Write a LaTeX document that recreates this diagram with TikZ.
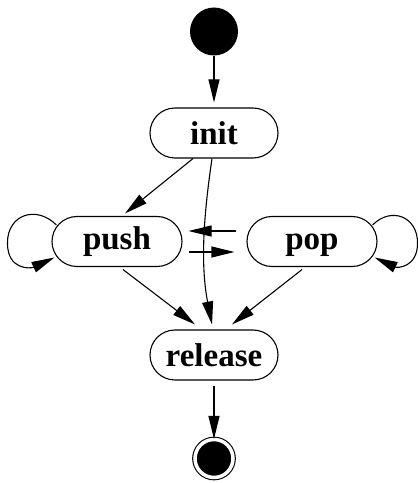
\documentclass[tikz,border=0pt]{standalone}
\usepackage{fontspec}
\setmainfont{Liberation Serif}
\usetikzlibrary{arrows.meta}

\tikzset{
  state/.style={draw, line width=1.1pt, rounded corners=25pt, minimum width=128pt,
    minimum height=50pt, inner sep=0pt, font=\fontsize{33}{33}\selectfont\bfseries,
    text height=24pt, text depth=7.4pt},
  lowtext/.style={text height=28pt, text depth=4.6pt},
  arr/.style={line width=1.1pt, -{Triangle[length=23pt,width=11pt]}},
  startdot/.style={circle, fill=black, minimum size=48pt, inner sep=0pt},
  enddot/.style={circle, draw, line width=1.1pt, fill=black, minimum size=38pt,
    inner sep=0pt, double=white, double distance=3.5pt},
}

\begin{document}
\begin{tikzpicture}[x=1pt, y=1pt]
  \useasboundingbox (0,0) rectangle (418,483);

  % states
  \node[startdot] (start) at (214,451.5) {};
  \node[state, lowtext] (init) at (214,350) {init};
  \node[state, minimum width=130pt] (push) at (117,241.5) {push};
  \node[state, minimum width=130pt] (pop) at (312,241.5) {pop};
  \node[state, lowtext] (release) at (214,128) {release};
  \node[enddot] (end) at (214,24.5) {};

  % transitions
  \draw[arr, shorten >=5pt] (start) -- (init.north);
  \draw[arr] ([xshift=-21pt]init.south) -- ([shift={(8,2.5)}]push.north);
  \draw[arr] ([xshift=-2pt]init.south) .. controls (204,270) and (200,220) .. ([shift={(-2,5)}]release.north);
  \draw[arr] ([shift={(6,-2.5)}]push.south) -- ([shift={(-19,5)}]release.north);
  \draw[arr] ([shift={(-10,-2.5)}]pop.south) -- ([shift={(18,5)}]release.north);
  \draw[arr] ([shift={(-10,10.5)}]pop.west) -- ([shift={(6,10.5)}]push.east);
  \draw[arr] ([shift={(6,-10.5)}]push.east) -- ([shift={(-12,-10.5)}]pop.west);
  \draw[arr, shorten <=5pt] (release.south) -- (end.north);

  % self loops
  \draw[arr] ([shift={(5,16.5)}]push.west) to[out=135,in=90,looseness=1.4]
    ([shift={(-44,-1.5)}]push.west) to[out=270,in=205,looseness=1.4]
    ([shift={(3,-16)}]push.west);
  \draw[arr] ([shift={(-5,16.5)}]pop.east) to[out=45,in=90,looseness=1.4]
    ([shift={(40,-1.5)}]pop.east) to[out=270,in=335,looseness=1.4]
    ([shift={(-3,-16)}]pop.east);
\end{tikzpicture}
\end{document}
